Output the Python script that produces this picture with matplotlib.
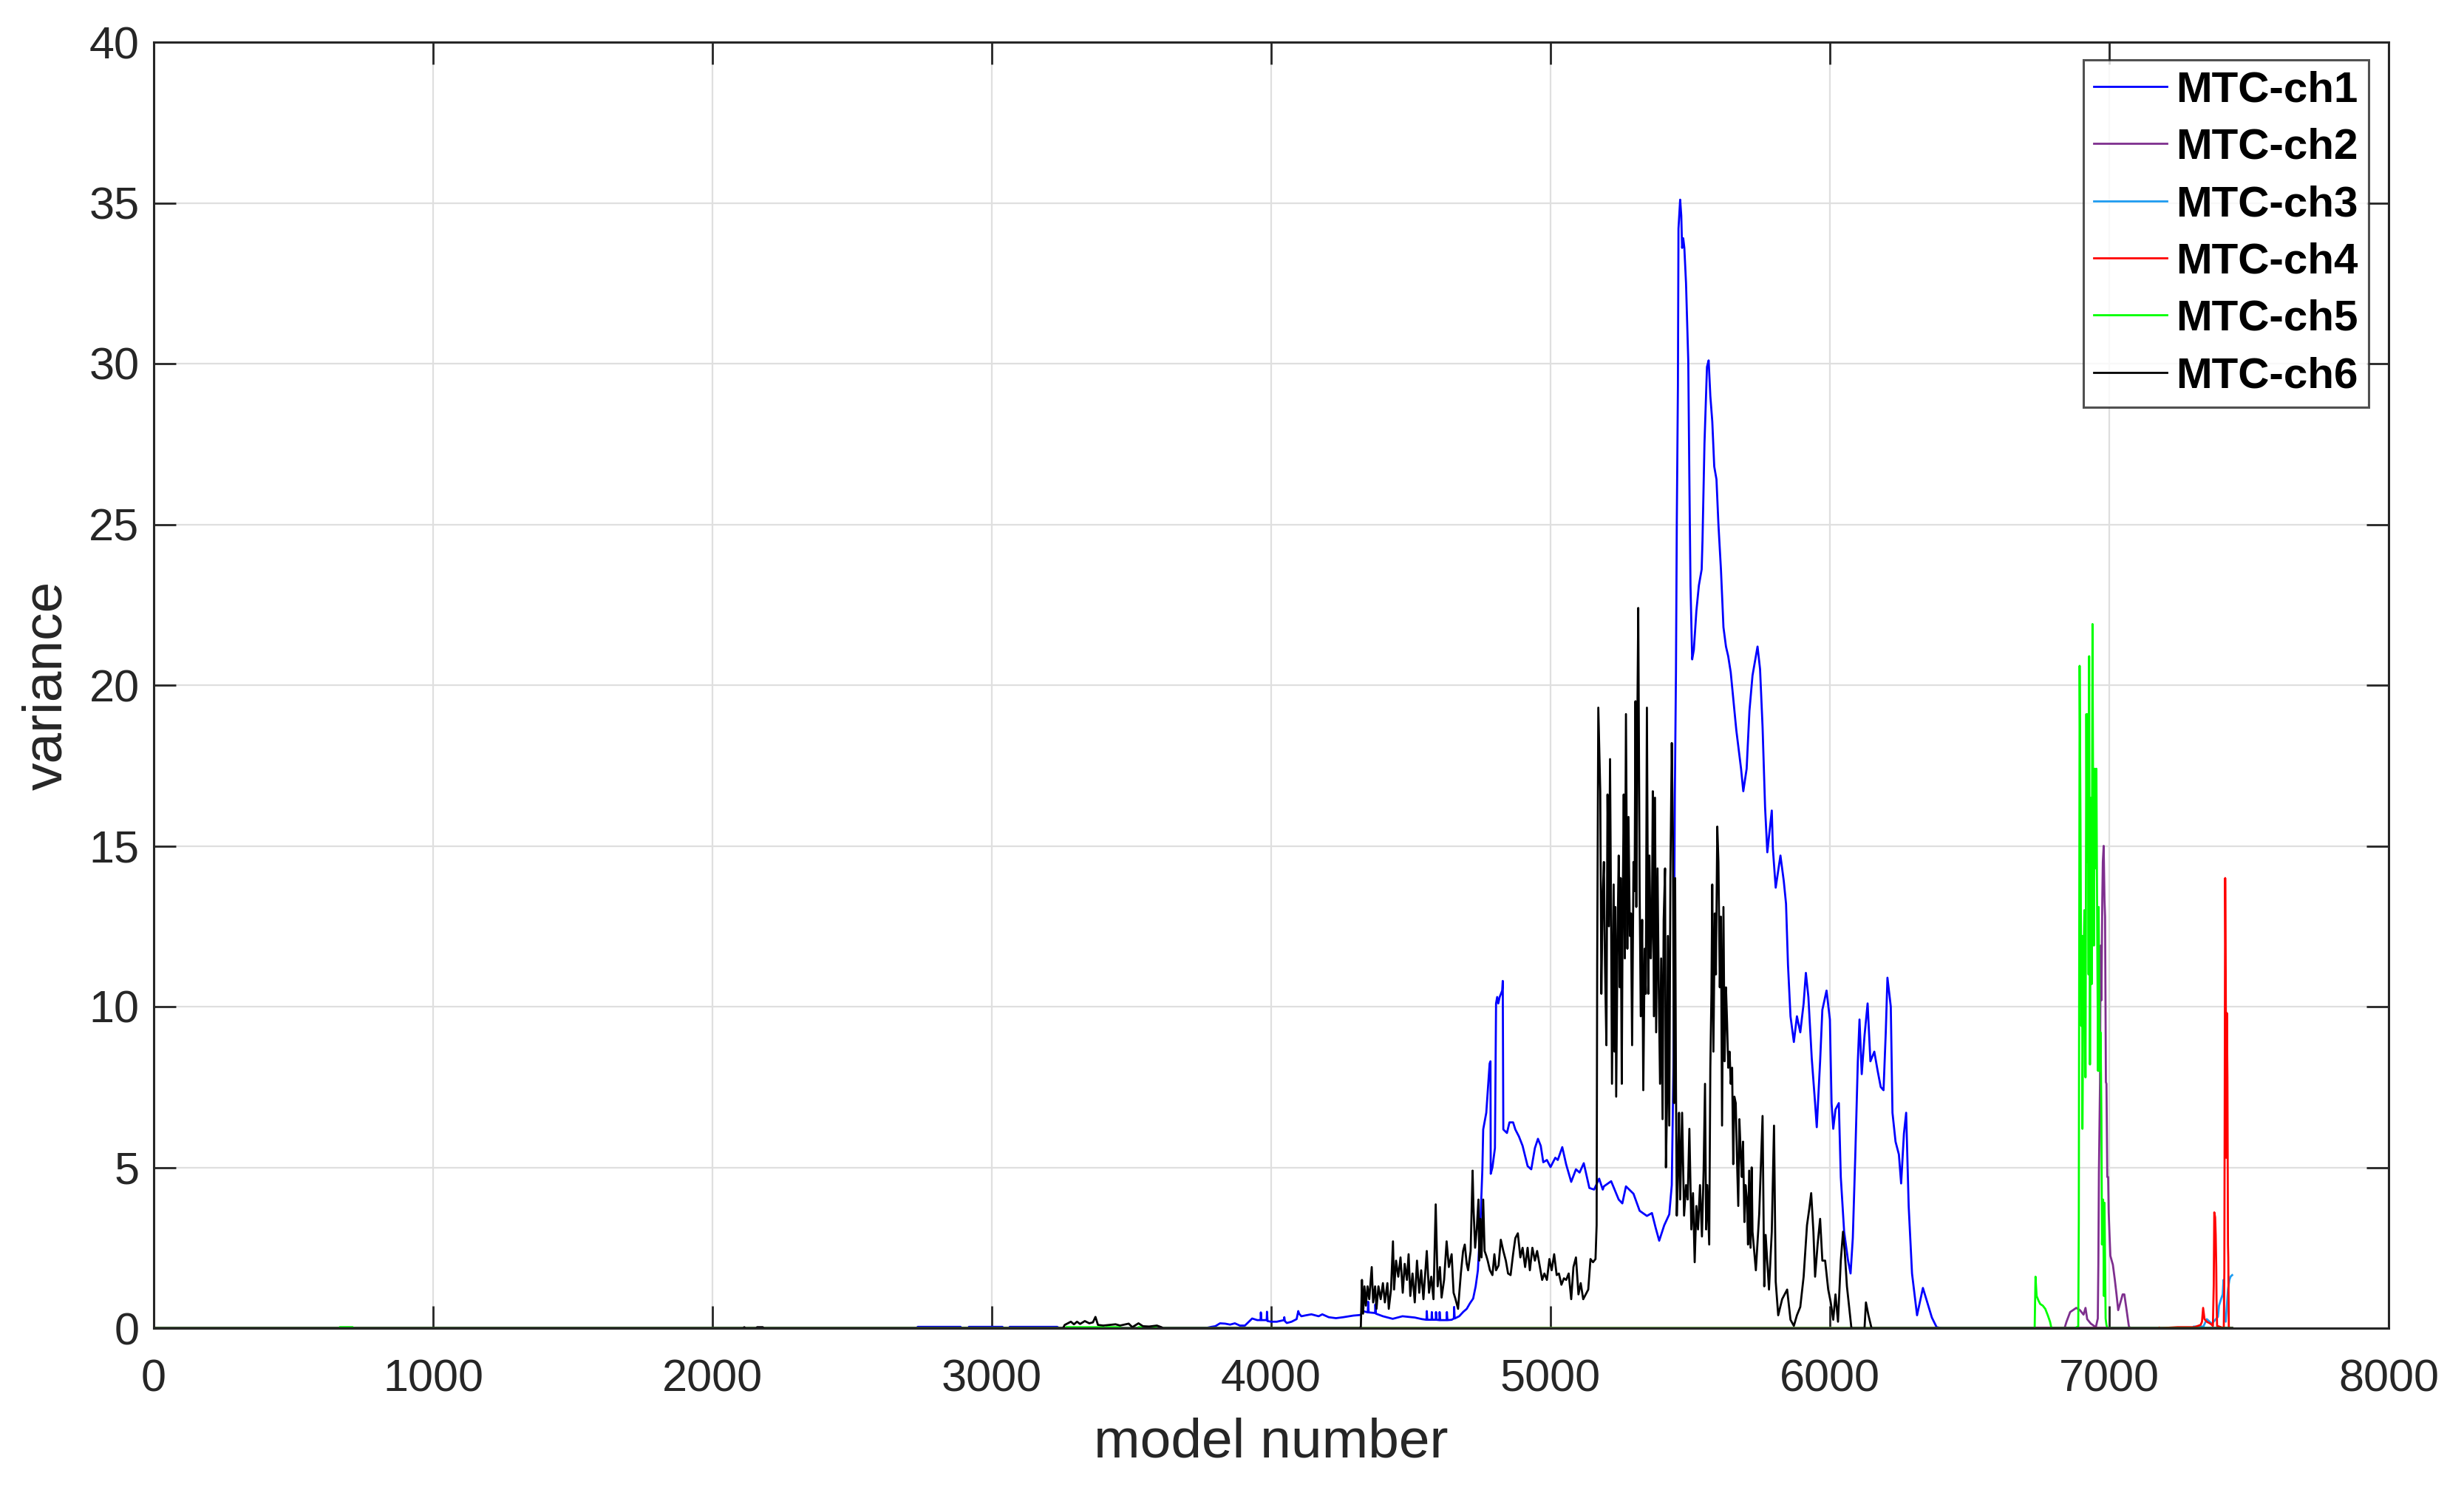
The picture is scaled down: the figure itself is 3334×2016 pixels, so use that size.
import numpy as np
import matplotlib
matplotlib.use("Agg")
import matplotlib.pyplot as plt

plt.rcParams['font.family'] = ['Liberation Sans', 'DejaVu Sans']

labels = ["MTC-ch1", "MTC-ch2", "MTC-ch3", "MTC-ch4", "MTC-ch5", "MTC-ch6"]
colors = ["#0000FF", "#7E2F8E", "#1E9BF0", "#FF0000", "#00FF00", "#000000"]

x_ticks = [0, 1000, 2000, 3000, 4000, 5000, 6000, 7000, 8000]
y_ticks = [0, 5, 10, 15, 20, 25, 30, 35, 40]

# ---- MTC-ch1 (blue) ----
ch1 = [(0, 0), (2730, 0), (2735, 0.04), (2888, 0.04), (2892, 0), (2916, 0), (2918, 0.04), (3038, 0.04),
       (3042, 0), (3062, 0), (3064, 0.04), (3234, 0.04), (3240, 0.01), (3770, 0.01), (3786, 0.04),
       (3800, 0.06), (3817, 0.15), (3835, 0.14), (3853, 0.11), (3870, 0.15), (3888, 0.08), (3906, 0.08),
       (3932, 0.30), (3950, 0.25), (3962, 0.25), (3963, 0.49), (3965, 0.25), (3984, 0.25), (3985, 0.51),
       (3987, 0.22), (4000, 0.20), (4020, 0.20), (4046, 0.25), (4047, 0.34), (4049, 0.22), (4056, 0.16),
       (4073, 0.20), (4091, 0.28), (4097, 0.53), (4100, 0.45), (4108, 0.37), (4125, 0.40), (4144, 0.43),
       (4170, 0.37), (4183, 0.43), (4206, 0.34), (4232, 0.31), (4258, 0.34), (4294, 0.39), (4320, 0.41),
       (4329, 0.53), (4346, 0.49), (4347, 0.82), (4349, 0.49), (4372, 0.47), (4373, 0.74), (4375, 0.45),
       (4400, 0.37), (4435, 0.29), (4470, 0.37), (4514, 0.33), (4540, 0.28), (4556, 0.26), (4557, 0.53),
       (4559, 0.26), (4574, 0.26), (4575, 0.5), (4577, 0.26), (4589, 0.26), (4590, 0.5), (4592, 0.26),
       (4602, 0.25), (4603, 0.5), (4605, 0.25), (4628, 0.25), (4629, 0.5), (4631, 0.25), (4646, 0.26),
       (4654, 0.3), (4655, 0.66), (4657, 0.3), (4673, 0.37), (4688, 0.51), (4700, 0.6), (4712, 0.78),
       (4723, 0.92), (4732, 1.3), (4740, 1.8), (4749, 3.26), (4756, 4.94), (4759, 6.18), (4770, 6.70),
       (4775, 7.35), (4782, 8.23), (4785, 8.3), (4786, 4.80), (4792, 5.0), (4801, 5.6), (4805, 10.1),
       (4809, 10.3), (4813, 10.1), (4818, 10.3), (4827, 10.5), (4829, 10.8), (4831, 6.18), (4844, 6.07),
       (4853, 6.4), (4866, 6.4), (4874, 6.18), (4887, 5.96), (4900, 5.67), (4918, 5.04), (4931, 4.94),
       (4944, 5.6), (4955, 5.89), (4965, 5.67), (4974, 5.16), (4987, 5.23), (5000, 5.01), (5017, 5.3),
       (5026, 5.23), (5042, 5.63), (5056, 5.09), (5074, 4.55), (5091, 4.94), (5104, 4.84), (5119, 5.13),
       (5139, 4.36), (5156, 4.31), (5174, 4.65), (5187, 4.31), (5191, 4.41), (5217, 4.57), (5244, 4.0),
       (5257, 3.88), (5270, 4.41), (5297, 4.18), (5319, 3.65), (5345, 3.49), (5363, 3.58), (5376, 3.13),
       (5389, 2.72), (5407, 3.2), (5425, 3.54), (5434, 4.45), (5440, 8.1), (5445, 16.6), (5449, 20.4),
       (5452, 25.1), (5456, 29.3), (5458, 34.2), (5464, 35.1), (5468, 34.6), (5471, 33.6), (5475, 33.9),
       (5479, 33.6), (5485, 32.5), (5493, 30.1), (5497, 26.4), (5501, 23.1), (5507, 20.8), (5513, 21.1),
       (5522, 22.3), (5531, 23.1), (5541, 23.6), (5544, 24.5), (5551, 27.5), (5560, 29.9), (5566, 30.1),
       (5572, 29.0), (5579, 28.2), (5586, 26.8), (5594, 26.4), (5601, 25.0), (5610, 23.6), (5619, 21.8),
       (5628, 21.2), (5636, 20.9), (5645, 20.4), (5665, 18.6), (5682, 17.4), (5690, 16.7), (5702, 17.4),
       (5712, 19.2), (5723, 20.3), (5741, 21.2), (5750, 20.5), (5759, 18.7), (5768, 16.2), (5776, 14.8),
       (5792, 16.1), (5796, 14.9), (5806, 13.7), (5823, 14.7), (5835, 13.9), (5843, 13.2), (5850, 11.3),
       (5859, 9.7), (5871, 8.9), (5882, 9.7), (5894, 9.2), (5906, 10.1), (5914, 11.05), (5923, 10.3),
       (5935, 8.4), (5947, 7.0), (5953, 6.25), (5965, 8.3), (5973, 9.9), (5988, 10.5), (6000, 9.6),
       (6006, 7.0), (6012, 6.2), (6020, 6.8), (6032, 7.0), (6039, 4.7), (6051, 3.0), (6065, 2.1),
       (6074, 1.7), (6082, 2.8), (6091, 5.4), (6100, 8.3), (6106, 9.6), (6114, 7.9), (6124, 9.1),
       (6135, 10.1), (6145, 8.3), (6159, 8.6), (6171, 8.0), (6182, 7.5), (6192, 7.4), (6200, 9.2),
       (6206, 10.9), (6218, 10.0), (6224, 6.7), (6235, 5.8), (6247, 5.4), (6255, 4.5), (6265, 6.05),
       (6273, 6.7), (6282, 3.8), (6294, 1.7), (6312, 0.4), (6333, 1.25), (6347, 0.85), (6365, 0.33),
       (6382, 0.03), (6400, 0), (7440, 0)]

# ---- MTC-ch2 (purple) ----
ch2 = [(0, 0), (6840, 0), (6847, 0.2), (6860, 0.5), (6882, 0.63), (6895, 0.56), (6908, 0.42), (6915, 0.63),
       (6921, 0.28), (6934, 0.14), (6952, 0.03), (6959, 0.3), (6961, 2.0), (6963, 4.85), (6967, 7.65),
       (6969, 11.9), (6972, 10.2), (6975, 13.3), (6977, 14.5), (6980, 15.0), (6983, 13.3), (6985, 12.8),
       (6988, 7.65), (6990, 7.6), (6993, 4.7), (6996, 4.7), (6998, 3.6), (7001, 2.9), (7004, 2.25),
       (7013, 1.97), (7020, 1.5), (7026, 1.05), (7032, 0.56), (7039, 0.77), (7048, 1.05), (7054, 1.05),
       (7061, 0.63), (7070, 0.07), (7074, 0), (7440, 0)]

# ---- MTC-ch3 (light blue) ----
ch3 = [(0, 0), (7300, 0), (7302, 0.05), (7337, 0.05), (7349, 0.28), (7367, 0.14), (7389, 0.35),
       (7393, 0.7), (7400, 0.9), (7406, 1.05), (7409, 1.5), (7412, 0.35), (7417, 0.2), (7421, 0.7),
       (7425, 1.2), (7430, 1.5), (7434, 1.6), (7440, 1.65)]

# ---- MTC-ch4 (red) ----
ch4 = [(0, 0), (7175, 0), (7179, 0.02), (7183, 0), (7245, 0.03), (7305, 0.03), (7327, 0.1), (7332, 0.2),
       (7336, 0.63), (7341, 0.28), (7349, 0.2), (7362, 0.14), (7371, 0.07), (7374, 1.33), (7376, 3.6),
       (7379, 3.45), (7381, 2.9), (7383, 1.9), (7384, 0.9), (7386, 0.07), (7410, 0), (7412, 1.75),
       (7415, 14.0), (7417, 11.0), (7419, 5.3), (7421, 9.8), (7423, 7.8), (7425, 2.6), (7426, 2.2),
       (7428, 0), (7440, 0)]

# ---- MTC-ch5 (green) ----
ch5 = [(0, 0), (664, 0), (666, 0.03), (712, 0.03), (714, 0), (3265, 0), (3267, 0.03), (3399, 0.03),
       (3401, 0), (3408, 0), (3410, 0.03), (3459, 0.03), (3461, 0), (3523, 0), (3525, 0.03), (3585, 0.03),
       (3587, 0), (6733, 0), (6736, 1.6), (6740, 1.0), (6747, 0.85), (6753, 0.75), (6762, 0.7),
       (6771, 0.6), (6780, 0.4), (6788, 0.2), (6793, 0.0), (6876, 0.0), (6889, 0.05), (6891, 3.3),
       (6894, 20.6), (6897, 15.8), (6900, 9.4), (6903, 12.2), (6904, 6.2), (6908, 11.5), (6911, 13.0),
       (6915, 7.8), (6918, 19.1), (6920, 14.5), (6923, 19.1), (6926, 11.0), (6928, 20.9), (6931, 8.2),
       (6934, 16.5), (6937, 10.7), (6940, 21.9), (6942, 17.1), (6945, 11.9), (6948, 17.4), (6952, 14.3),
       (6954, 17.4), (6957, 12.2), (6960, 8.0), (6962, 13.1), (6966, 8.0), (6969, 9.2), (6972, 6.5),
       (6974, 2.6), (6978, 4.0), (6981, 1.0), (6983, 3.9), (6987, 0.3), (6990, 0.1), (6993, 0), (7440, 0)]

# ---- MTC-ch6 (black) ----
ch6 = [(0, 0), (2110, 0), (2114, 0.03), (2118, 0), (2158, 0), (2160, 0.03), (2180, 0.03), (2182, 0),
       (3255, 0), (3261, 0.1), (3283, 0.2), (3294, 0.12), (3305, 0.2), (3316, 0.13), (3333, 0.22),
       (3349, 0.15), (3362, 0.18), (3371, 0.35), (3380, 0.1), (3399, 0.08), (3421, 0.1), (3443, 0.12),
       (3459, 0.08), (3490, 0.14), (3503, 0.03), (3525, 0.15), (3541, 0.06), (3563, 0.05), (3591, 0.08),
       (3607, 0.03), (3613, 0), (4318, 0), (4321, 0.05),
       (4325, 1.5), (4329, 0.45), (4334, 1.3), (4339, 0.7), (4345, 1.3), (4351, 0.9), (4360, 1.9),
       (4365, 0.8), (4372, 1.3), (4377, 0.6), (4384, 1.3), (4392, 0.9), (4400, 1.4), (4407, 0.8),
       (4416, 1.4), (4421, 0.6), (4429, 1.2), (4436, 2.7), (4440, 1.2), (4447, 2.1), (4455, 1.6),
       (4463, 2.2), (4471, 1.1), (4478, 2.0), (4486, 1.5), (4492, 2.3), (4498, 1.0), (4506, 1.7),
       (4514, 0.8), (4522, 2.1), (4530, 1.1), (4537, 1.8), (4545, 0.9), (4557, 2.4), (4565, 1.1),
       (4573, 1.6), (4581, 0.9), (4589, 3.85), (4596, 1.3), (4604, 1.9), (4610, 0.95), (4619, 1.5),
       (4628, 2.7), (4636, 1.9), (4646, 2.3), (4653, 1.1), (4660, 0.9), (4669, 0.6), (4679, 1.7),
       (4687, 2.4), (4693, 2.6), (4700, 2.0), (4705, 1.8), (4714, 2.4), (4721, 4.9), (4724, 3.8),
       (4730, 2.5), (4736, 3.1), (4742, 4.0), (4745, 2.1), (4749, 3.4), (4753, 2.2), (4759, 4.0),
       (4764, 2.4), (4770, 2.25), (4775, 2.1), (4783, 1.8), (4792, 1.65), (4799, 2.3), (4805, 1.8),
       (4814, 1.95), (4822, 2.75), (4831, 2.4), (4840, 2.1), (4848, 1.7), (4857, 1.65), (4866, 2.3),
       (4874, 2.8), (4883, 2.95), (4892, 2.2), (4900, 2.5), (4909, 1.9), (4918, 2.5), (4926, 1.8),
       (4935, 2.5), (4944, 2.1), (4952, 2.4), (4961, 1.95), (4970, 1.5), (4978, 1.7), (4987, 1.5),
       (4996, 2.15), (5004, 1.8), (5013, 2.3), (5022, 1.65), (5030, 1.7), (5039, 1.35), (5048, 1.55),
       (5056, 1.5), (5065, 1.7), (5074, 0.9), (5082, 1.9), (5091, 2.2), (5100, 1.05), (5108, 1.4),
       (5117, 0.9), (5126, 1.05), (5135, 1.2), (5143, 2.15), (5152, 2.05), (5161, 2.15), (5165, 3.2),
       (5167, 11.3), (5171, 19.3), (5178, 16.7), (5182, 10.4), (5187, 13.5),
       (5191, 14.5), (5195, 11.3), (5200, 8.8), (5204, 16.6), (5209, 12.5), (5213, 17.7), (5217, 12.4),
       (5220, 7.6), (5226, 13.8), (5229, 8.6), (5232, 13.1), (5235, 7.2), (5240, 12.2), (5244, 14.7),
       (5248, 10.6), (5251, 14.0), (5255, 7.6), (5258, 12.7), (5262, 16.6), (5266, 11.5), (5270, 19.1),
       (5275, 11.8), (5279, 15.9), (5284, 12.2), (5288, 12.9), (5292, 8.8), (5297, 14.5), (5301, 13.6),
       (5304, 19.5), (5307, 13.1), (5311, 19.1), (5314, 22.4), (5319, 13.6), (5323, 9.7), (5328, 12.7),
       (5332, 7.4), (5337, 11.8), (5341, 10.4), (5345, 19.3), (5350, 10.4), (5354, 14.7), (5359, 11.5),
       (5363, 12.7), (5366, 16.7), (5370, 9.7), (5374, 16.5), (5378, 9.2), (5383, 14.3), (5387, 10.85),
       (5392, 7.6), (5396, 11.5), (5401, 6.5), (5405, 12.7), (5410, 14.3), (5413, 5.0), (5417, 7.0),
       (5420, 12.2), (5425, 6.3), (5429, 14.0), (5434, 18.2), (5438, 15.4), (5442, 7.0), (5446, 14.0),
       (5449, 7.6), (5452, 3.5), (5456, 4.9), (5460, 6.7), (5464, 4.0), (5471, 6.7), (5478, 3.5),
       (5485, 4.45), (5491, 4.0), (5497, 6.2), (5504, 3.07), (5510, 4.2), (5516, 2.05), (5522, 3.8),
       (5528, 3.07), (5535, 4.45), (5542, 2.85), (5548, 4.9), (5553, 7.6), (5557, 3.07), (5561, 4.45),
       (5568, 2.6), (5572, 8.1), (5576, 10.4), (5579, 13.8), (5583, 8.6), (5588, 12.9), (5592, 11.0),
       (5597, 15.6), (5601, 14.5), (5606, 10.6), (5610, 12.8), (5614, 6.3), (5619, 13.1), (5623, 8.3),
       (5628, 10.6), (5632, 9.5), (5636, 8.1), (5641, 8.6), (5645, 7.6), (5650, 8.1), (5654, 5.1),
       (5658, 7.2), (5663, 7.0), (5667, 5.4), (5672, 3.8), (5676, 6.5), (5681, 5.4), (5685, 4.7),
       (5689, 5.8), (5694, 3.3), (5698, 4.45), (5703, 4.0), (5707, 2.6), (5711, 4.9), (5716, 2.5),
       (5720, 5.0), (5723, 3.0), (5735, 1.8), (5747, 3.55), (5759, 6.6), (5765, 1.3), (5770, 2.9),
       (5782, 1.2), (5792, 3.0), (5800, 6.3), (5806, 1.45), (5815, 0.4), (5829, 0.9), (5847, 1.2),
       (5859, 0.26), (5871, 0.07), (5882, 0.4), (5894, 0.66), (5906, 1.6), (5918, 3.2), (5926, 3.7),
       (5933, 4.2), (5941, 3.0), (5947, 1.6), (5956, 2.6), (5965, 3.4), (5973, 2.1), (5983, 2.1),
       (5994, 1.2), (6003, 0.8), (6012, 0.26), (6020, 1.05), (6029, 0.2), (6039, 2.1), (6047, 3.0),
       (6053, 2.4), (6061, 1.3), (6071, 0.5), (6077, 0), (6124, 0), (6129, 0.8), (6138, 0.4),
       (6149, 0), (7440, 0)]

series = [ch1, ch2, ch3, ch4, ch5, ch6]

fig = plt.figure(figsize=(3334 / 200, 2016 / 200), dpi=200)
ax = fig.add_axes([208 / 3334, 1 - 1797 / 2016, (3232 - 208) / 3334, (1797 - 57) / 2016])

for data, c, lab in zip(series, colors, labels):
    arr = np.array(data, dtype=float)
    ax.plot(arr[:, 0], arr[:, 1], color=c, lw=1.0, label=lab)

ax.set_xlim(0, 8000)
ax.set_ylim(0, 40)
ax.set_xticks(x_ticks)
ax.set_yticks(y_ticks)
ax.grid(True, color="#dfdfdf", lw=0.8)
ax.set_axisbelow(True)

edge = "#262626"
for s in ax.spines.values():
    s.set_color(edge)
    s.set_linewidth(1.1)
ax.tick_params(direction="in", length=10.8, width=1.0, color=edge, labelcolor=edge,
               top=True, right=True, labelsize=22)
ax.tick_params(axis="x", pad=15)
ax.tick_params(axis="y", pad=7)

ax.set_xlabel("model number", fontsize=27, color=edge, labelpad=8)
ax.set_ylabel("variance", fontsize=27, color=edge, labelpad=8)

leg = ax.legend(loc="upper right", bbox_to_anchor=(3205 / 3334, 1 - 81 / 2016),
                bbox_transform=fig.transFigure, borderaxespad=0, fancybox=False,
                frameon=True, prop={"size": 21, "weight": "bold"},
                handlelength=1.7, handletextpad=0.2, labelspacing=0.40,
                borderpad=0.25)
leg.get_frame().set_edgecolor(edge)
leg.get_frame().set_linewidth(1.1)
for line in leg.get_lines():
    line.set_linewidth(1.0)

fig.savefig("out.png", dpi=200)
